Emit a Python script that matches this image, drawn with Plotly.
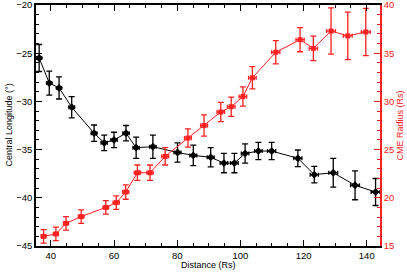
import plotly.graph_objects as go

black_x = [36.3, 39.5, 42.6, 46.6, 53.7, 56.9, 60.0, 63.8, 67.0, 72.3, 80.1, 85.1, 90.6, 94.8, 98.1, 101.5, 105.7, 109.9, 118.2, 123.4, 129.4, 136.3, 142.8]
black_y = [-25.5, -28.1, -28.6, -30.6, -33.3, -34.3, -34.0, -33.3, -34.8, -34.7, -35.3, -35.6, -35.8, -36.4, -36.4, -35.4, -35.15, -35.15, -35.9, -37.6, -37.4, -38.7, -39.4]
black_yerr = [1.4, 1.25, 1.15, 1.1, 0.85, 0.8, 0.8, 0.8, 1.1, 1.2, 1.0, 1.07, 1.0, 1.0, 1.0, 1.0, 0.9, 0.9, 0.86, 0.86, 1.5, 1.5, 1.4]
black_xerr = [0.8, 0.8, 0.8, 0.9, 0.9, 1.0, 1.0, 1.0, 1.0, 1.0, 1.1, 1.1, 1.1, 1.2, 1.2, 1.2, 1.2, 1.3, 1.3, 1.3, 1.4, 1.4, 1.4]

red_x = [37.7, 41.6, 44.8, 49.6, 57.4, 60.7, 63.7, 67.4, 71.4, 76.2, 83.4, 88.5, 93.8, 97.1, 100.8, 103.8, 111.2, 118.9, 123.1, 128.7, 134.0, 139.7]
red_y = [16.0, 16.25, 17.35, 18.05, 19.0, 19.5, 20.6, 22.6, 22.6, 24.3, 26.2, 27.5, 28.9, 29.45, 30.5, 32.45, 35.1, 36.4, 35.5, 37.3, 36.8, 37.2]
red_yerr = [0.7, 0.7, 0.7, 0.7, 0.7, 0.7, 0.75, 0.8, 0.8, 0.9, 0.95, 1.1, 1.0, 1.0, 1.0, 1.15, 1.2, 1.25, 1.28, 2.4, 2.47, 2.45]
red_xerr = [0.8, 0.8, 0.8, 0.9, 0.9, 1.0, 1.0, 1.0, 1.0, 1.1, 1.1, 1.1, 1.2, 1.2, 1.2, 1.2, 1.3, 1.3, 1.3, 1.4, 1.4, 1.4]

RED = "#ff2020"
FONT = "Liberation Sans, Arial, sans-serif"

fig = go.Figure()
fig.add_trace(go.Scatter(
    x=black_x, y=black_y, mode="lines+markers",
    line=dict(color="black", width=1),
    marker=dict(symbol="diamond", size=6, color="black"),
    error_y=dict(type="data", array=black_yerr, color="black", thickness=1.3, width=3),
    error_x=dict(type="data", array=black_xerr, color="black", thickness=1.3, width=2),
    yaxis="y", showlegend=False))
fig.add_trace(go.Scatter(
    x=red_x, y=red_y, mode="lines+markers",
    line=dict(color=RED, width=1),
    marker=dict(symbol="square", size=5, color=RED),
    error_y=dict(type="data", array=red_yerr, color=RED, thickness=1.3, width=3),
    error_x=dict(type="data", array=red_xerr, color=RED, thickness=1.3, width=2),
    yaxis="y2", showlegend=False))

fig.update_layout(
    width=407, height=272,
    margin=dict(l=36, r=27, t=5, b=26),
    paper_bgcolor="white", plot_bgcolor="white",
    font=dict(family=FONT, size=9, color="black"),
    xaxis=dict(
        range=[35.3, 144.2], tickmode="array", tickvals=[40, 60, 80, 100, 120, 140],
        ticks="inside", ticklen=6, tickcolor="black", showgrid=False, zeroline=False,
        showline=True, linecolor="black", linewidth=1.5, mirror="ticks",
        minor=dict(ticks="inside", dtick=5, ticklen=3, tickcolor="black"),
        automargin=False, ticklabeloverflow="allow",
        tickfont=dict(size=9.5)),
    yaxis=dict(
        range=[-45, -20], tickvals=[-45, -40, -35, -30, -25, -20],
        ticktext=["\u221245", "\u221240", "\u221235", "\u221230", "\u221225", "\u221220"],
        ticks="inside", ticklen=6, tickcolor="black", showgrid=False, zeroline=False,
        showline=True, linecolor="black", linewidth=1.5,
        minor=dict(ticks="inside", dtick=1, ticklen=3, tickcolor="black"),
        automargin=False, ticklabeloverflow="allow",
        tickfont=dict(size=9.5)),
    yaxis2=dict(
        range=[15, 40], overlaying="y", side="right", tickvals=[15, 20, 25, 30, 35, 40],
        ticks="inside", ticklen=6, tickcolor=RED, showgrid=False, zeroline=False,
        showline=True, linecolor=RED, linewidth=1.5,
        minor=dict(ticks="inside", dtick=1, ticklen=3, tickcolor=RED),
        automargin=False, ticklabeloverflow="allow",
        tickfont=dict(size=9.5, color=RED)),
    annotations=[
        dict(text="Distance (Rs)", xref="paper", yref="paper", x=0.5, y=0, yshift=-26,
             xanchor="center", yanchor="bottom", showarrow=False, font=dict(size=9)),
        dict(text="Central Longitude (\u00b0)", xref="paper", yref="paper", x=0, y=0.5,
             xshift=-35, xanchor="left", yanchor="middle", textangle=-90,
             showarrow=False, font=dict(size=9)),
        dict(text="CME Radius (Rs)", xref="paper", yref="paper", x=1, y=0.5,
             xshift=26, xanchor="right", yanchor="middle", textangle=-90,
             showarrow=False, font=dict(size=9, color=RED)),
    ],
)
fig.write_html("out.html", config={"displayModeBar": False},
               post_script="document.body.style.margin='0';document.body.style.padding='0';")
